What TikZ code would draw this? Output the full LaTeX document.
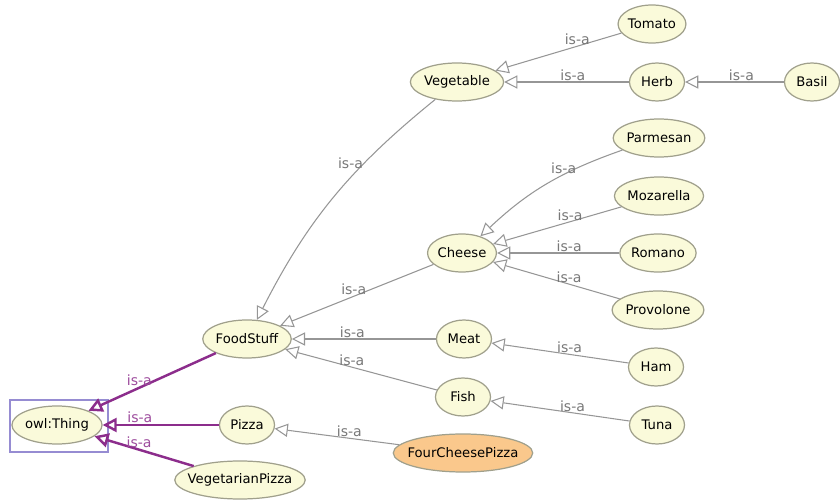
\documentclass[tikz,border=0pt]{standalone}
\usepackage{fontspec}
\setmainfont{DejaVu Sans}
\usetikzlibrary{positioning, arrows.meta, shapes.geometric}

\definecolor{classfill}{RGB}{250,250,218}
\definecolor{classline}{RGB}{160,160,140}
\definecolor{instfill}{RGB}{250,200,140}
\definecolor{edgegray}{RGB}{150,150,150}
\definecolor{labelgray}{RGB}{120,120,120}
\definecolor{thingpurple}{RGB}{140,45,140}
\definecolor{boxlilac}{RGB}{150,140,210}

\begin{document}
\begin{tikzpicture}[
    x=0.02cm, y=-0.02cm,
    cls/.style={ellipse, draw=classline, fill=classfill, line width=0.7pt,
                inner xsep=0pt, minimum width=1.1cm, minimum height=0.76cm,
                font=\fontsize{7.5}{9}\selectfont},
    wide/.style={inner xsep=-3.5pt},
    isa/.style={-{Triangle[open, length=7.5pt, width=7.5pt]}, draw=edgegray, line width=0.6pt},
    topisa/.style={-{Triangle[open, length=8pt, width=8pt]}, draw=thingpurple, line width=1.4pt},
    lbl/.style={font=\fontsize{8}{9}\selectfont, text=labelgray, inner sep=0.5pt},
    toplbl/.style={font=\fontsize{8}{9}\selectfont, text=thingpurple!85, inner sep=0.5pt}
]
    \useasboundingbox (0,0) rectangle (840,500);

    % Root
    \node[cls] (thing) at (57,425) {owl:Thing};
    \draw[boxlilac, line width=1.7pt] (10,400) rectangle (108,452);

    % First level
    \node[cls] (food) at (247,339) {FoodStuff};
    \node[cls] (pizza) at (247,425) {Pizza};
    \node[cls, wide] (vegpizza) at (240,480) {VegetarianPizza};

    % Food groups
    \node[cls] (veg) at (457,82) {Vegetable};
    \node[cls] (cheese) at (462,253) {Cheese};
    \node[cls] (meat) at (464,339) {Meat};
    \node[cls] (fish) at (463,397) {Fish};
    \node[cls, wide, fill=instfill] (fourcheese) at (463,453) {FourCheesePizza};

    % Leaves
    \node[cls] (tomato) at (652,24) {Tomato};
    \node[cls] (herb) at (657,82) {Herb};
    \node[cls] (basil) at (812,82) {Basil};
    \node[cls] (parmesan) at (659,138) {Parmesan};
    \node[cls] (mozarella) at (659,196) {Mozarella};
    \node[cls] (romano) at (658,253) {Romano};
    \node[cls] (provolone) at (658,310) {Provolone};
    \node[cls] (ham) at (656,367) {Ham};
    \node[cls] (tuna) at (657,425) {Tuna};

    % Edges to owl:Thing
    \draw[topisa] (food) -- (thing) node[toplbl, pos=0.6, above] {is-a};
    \draw[topisa] (pizza) -- (thing) node[toplbl, pos=0.68, above] {is-a};
    \draw[topisa] (vegpizza) -- (thing) node[toplbl, pos=0.55, above] {is-a};

    % Edges to FoodStuff
    \draw[isa] (veg) to[bend right=12] node[lbl, pos=0.32, left] {is-a} (food);
    \draw[isa] (cheese) -- (food) node[lbl, pos=0.52, above] {is-a};
    \draw[isa] (meat) -- (food) node[lbl, pos=0.58, above] {is-a};
    \draw[isa] (fish) -- (food) node[lbl, pos=0.56, above] {is-a};
    \draw[isa] (fourcheese) -- (pizza) node[lbl, pos=0.4, above] {is-a};

    % Vegetables
    \draw[isa] (tomato) -- (veg) node[lbl, pos=0.35, above] {is-a};
    \draw[isa] (herb) -- (veg) node[lbl, pos=0.45, above] {is-a};
    \draw[isa] (basil) -- (herb) node[lbl, pos=0.43, above] {is-a};

    % Cheeses
    \draw[isa] (parmesan) to[bend right=12] node[lbl, pos=0.37, above] {is-a} (cheese);
    \draw[isa] (mozarella) -- (cheese) node[lbl, pos=0.4, above] {is-a};
    \draw[isa] (romano) -- (cheese) node[lbl, pos=0.41, above] {is-a};
    \draw[isa] (provolone) -- (cheese) node[lbl, pos=0.4, above] {is-a};

    % Meat and fish
    \draw[isa] (ham) -- (meat) node[lbl, pos=0.43, above] {is-a};
    \draw[isa] (tuna) -- (fish) node[lbl, pos=0.41, above] {is-a};

\end{tikzpicture}
\end{document}
